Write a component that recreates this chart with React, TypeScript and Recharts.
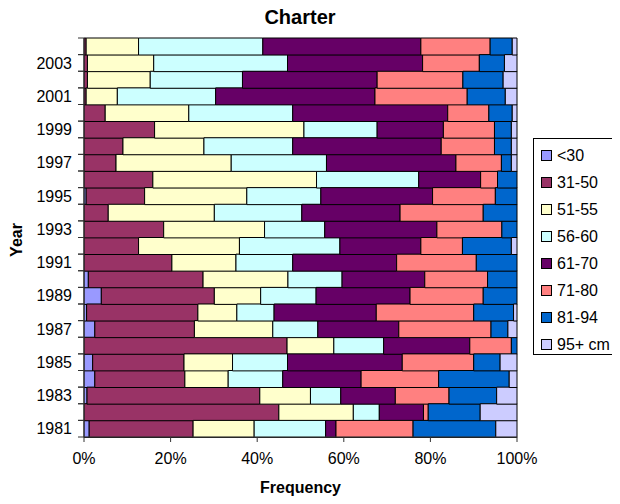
import { BarChart, Bar, XAxis, YAxis } from "recharts";

const years = [
  1981, 1982, 1983, 1984, 1985, 1986, 1987, 1988, 1989, 1990, 1991, 1992,
  1993, 1994, 1995, 1996, 1997, 1998, 1999, 2000, 2001, 2002, 2003, 2004,
];

// share of each length class per year (%), 1981 -> 2004
const under30 = [1.2, 0, 0.7, 2.5, 2.0, 0, 2.5, 0.6, 4.0, 1.0, 0, 0, 0, 0, 0.5, 0, 0, 0, 0, 0, 0, 0, 0, 0];
const s31to50 = [24.0, 45.0, 39.9, 20.8, 21.1, 46.9, 23.0, 25.7, 26.1, 26.5, 20.3, 12.6, 18.4, 5.6, 13.5, 15.9, 7.4, 9.0, 16.3, 4.9, 0.5, 0.8, 0.8, 0.5];
const s51to55 = [14.1, 17.2, 11.7, 10.0, 11.2, 10.8, 18.1, 9.0, 10.7, 19.6, 14.8, 23.3, 23.3, 24.5, 23.6, 37.8, 26.6, 18.7, 34.5, 19.3, 7.2, 14.5, 15.3, 12.1];
const s56to60 = [16.5, 6.0, 7.0, 12.6, 12.7, 11.5, 10.4, 8.6, 12.8, 12.5, 13.1, 23.2, 13.9, 20.2, 17.1, 23.6, 22.0, 20.5, 16.9, 24.0, 22.7, 21.3, 30.9, 28.7];
const s61to70 = [2.4, 10.2, 12.6, 18.1, 26.5, 19.9, 18.7, 23.6, 21.7, 19.1, 24.0, 18.7, 25.9, 22.7, 25.8, 14.3, 29.9, 34.3, 15.3, 35.8, 36.8, 31.1, 31.2, 36.5];
const s71to80 = [17.8, 1.1, 12.4, 17.9, 16.5, 9.6, 21.3, 22.5, 16.9, 14.5, 18.4, 9.6, 15.0, 19.2, 14.5, 3.9, 10.5, 12.3, 11.8, 9.5, 21.3, 19.8, 13.1, 16.0];
const s81to94 = [19.1, 12.0, 11.0, 16.3, 6.1, 1.3, 3.9, 9.2, 7.8, 6.8, 9.4, 11.3, 3.5, 7.8, 5.0, 4.5, 2.3, 3.9, 3.9, 5.4, 8.8, 9.3, 5.8, 5.1];
const over95 = [4.9, 8.5, 4.7, 1.8, 3.9, 0, 2.1, 0.8, 0, 0, 0, 1.3, 0, 0, 0, 0, 1.3, 1.3, 1.3, 1.1, 2.7, 3.2, 2.9, 1.1];

const seriesNames = ["<30", "31-50", "51-55", "56-60", "61-70", "71-80", "81-94", "95+ cm"];
const seriesValues = [under30, s31to50, s51to55, s56to60, s61to70, s71to80, s81to94, over95];
const colors = ["#9999FF", "#993366", "#FFFFCC", "#CCFFFF", "#660066", "#FF8080", "#0066CC", "#CCCCFF"];
const xTicks = [0, 0.2, 0.4, 0.6, 0.8, 1];

const data = years.map((year, i) => {
  const row: Record<string, number | string> = { year: String(year) };
  seriesNames.forEach((name, s) => {
    row[name] = seriesValues[s][i];
  });
  return row;
});

const PLOT_LEFT = 76;
const PLOT_TOP = 30;
const PLOT_BOTTOM = 429;
const BAND = (PLOT_BOTTOM - PLOT_TOP) / years.length;

const YearTick = (props: any) => {
  const { y, payload } = props;
  const yr = Number(payload.value);
  return (
    <g>
      <line x1={PLOT_LEFT - 6} x2={PLOT_LEFT} y1={y - BAND / 2} y2={y - BAND / 2} stroke="#333" />
      <line x1={PLOT_LEFT - 6} x2={PLOT_LEFT} y1={y + BAND / 2} y2={y + BAND / 2} stroke="#333" />
      {yr % 2 === 1 && (
        <text x={PLOT_LEFT - 12} y={y} dy="0.35em" textAnchor="end" fontSize={16} fill="#000">
          {yr}
        </text>
      )}
    </g>
  );
};

export default function App() {
  return (
    <div
      style={{
        position: "relative",
        width: 612,
        height: 496,
        fontFamily: "'Liberation Sans', Arial, sans-serif",
        color: "#000",
      }}
    >
      <div style={{ position: "absolute", left: 0, width: 584, top: -2, textAlign: "center", fontSize: 20, fontWeight: "bold" }}>
        Charter
      </div>
      <BarChart
        width={612}
        height={496}
        data={data}
        layout="vertical"
        stackOffset="expand"
        barCategoryGap={0}
        margin={{ top: PLOT_TOP, right: 103, left: 16, bottom: 37 }}
      >
        <XAxis
          type="number"
          domain={[0, 1]}
          ticks={xTicks}
          tickFormatter={(v: number) => `${Math.round(v * 100)}%`}
          tickSize={5}
          tickMargin={11}
          tick={{ fontSize: 16, fill: "#000" }}
          stroke="#333"
          height={30}
        />
        <YAxis
          type="category"
          dataKey="year"
          reversed
          interval={0}
          width={60}
          tickLine={false}
          tick={<YearTick />}
          stroke="#333"
        />
        {seriesNames.map((name, s) => (
          <Bar
            key={name}
            dataKey={name}
            stackId="a"
            fill={colors[s]}
            stroke="#000"
            strokeWidth={1}
            isAnimationActive={false}
          />
        ))}
      </BarChart>
      <div
        style={{
          position: "absolute",
          left: -8,
          top: 232,
          transform: "translate(0, -50%) rotate(-90deg)",
          fontSize: 16,
          fontWeight: "bold",
        }}
      >
        Year
      </div>
      <div style={{ position: "absolute", left: 0, width: 585, top: 471, textAlign: "center", fontSize: 16, fontWeight: "bold" }}>
        Frequency
      </div>
      <div
        style={{
          position: "absolute",
          left: 525,
          top: 130,
          width: 87,
          height: 217,
          border: "1px solid #000",
          boxSizing: "border-box",
          paddingTop: 3,
        }}
      >
        {seriesNames.map((name, s) => (
          <div key={name} style={{ display: "flex", alignItems: "center", height: 27, paddingLeft: 7, fontSize: 16 }}>
            <span
              style={{
                display: "inline-block",
                width: 9,
                height: 9,
                background: colors[s],
                border: "1px solid #000",
                marginRight: 5,
              }}
            />
            {name}
          </div>
        ))}
      </div>
    </div>
  );
}
